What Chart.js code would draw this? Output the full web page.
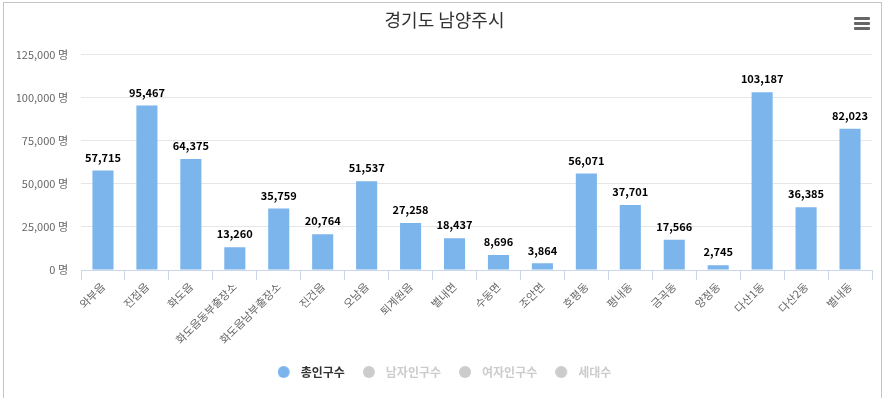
<!DOCTYPE html>
<html>
<head>
<meta charset="utf-8">
<script src="https://cdn.jsdelivr.net/npm/chart.js@4.4.0/dist/chart.umd.min.js"></script>
<style>
  body { margin: 0; background: #fff; }
  #box {
    position: absolute; left: 3px; top: 2px;
    width: 877px; height: 400px;
    border: 1px solid #c4c4c4; background: #fff;
  }
  #menu { position: absolute; left: 850px; top: 14px; width: 16px; }
  #menu span { display: block; height: 3px; background: #666; margin-bottom: 2px; border-radius: 1px; }
</style>
</head>
<body>
<div id="box">
  <canvas id="chart" width="877" height="400"></canvas>
  <div id="menu"><span></span><span></span><span></span></div>
</div>
<script>
// 읍면동 별 인구
const areas = ["와부읍", "진접읍", "화도읍", "화도읍동부출장소", "화도읍남부출장소", "진건읍", "오남읍",
    "퇴계원읍", "별내면", "수동면", "조안면", "호평동", "평내동", "금곡동", "양정동", "다산1동", "다산2동", "별내동"];
const totalPop = [57715, 95467, 64375, 13260, 35759, 20764, 51537, 27258, 18437, 8696, 3864,
    56071, 37701, 17566, 2745, 103187, 36385, 82023];
const seriesNames = ["총인구수", "남자인구수", "여자인구수", "세대수"];
const yTicks = [0, 25000, 50000, 75000, 100000, 125000];

const fontFamily = '"Noto Sans CJK KR", "Noto Sans", sans-serif';
Chart.defaults.font.family = fontFamily;

// 범례 동그라미 (글자와 간격을 두려고 왼쪽에 그림)
function dot(color) {
    const c = document.createElement('canvas');
    c.width = 17; c.height = 12;
    const g = c.getContext('2d');
    g.fillStyle = color;
    g.beginPath();
    g.arc(6, 6, 6, 0, Math.PI * 2);
    g.fill();
    return c;
}
const dotOn = dot('#7cb5ec');
const dotOff = dot('#cccccc');

// 막대 위 숫자
const valueLabels = {
    id: 'valueLabels',
    afterDatasetsDraw(chart) {
        const ctx = chart.ctx;
        const meta = chart.getDatasetMeta(0);
        if (meta.hidden) return;
        ctx.save();
        ctx.font = 'bold 11px ' + fontFamily;
        ctx.fillStyle = '#000';
        ctx.textAlign = 'center';
        ctx.textBaseline = 'middle';
        meta.data.forEach((bar, i) => {
            ctx.fillText(totalPop[i].toLocaleString('en-US'), bar.x, bar.y - 13);
        });
        ctx.restore();
    }
};

const ctx = document.getElementById('chart').getContext('2d');
new Chart(ctx, {
    type: 'bar',
    data: {
        labels: areas,
        datasets: [
            { label: seriesNames[0], data: totalPop, backgroundColor: '#7cb5ec' },
            { label: seriesNames[1], data: [], backgroundColor: '#434348', hidden: true },
            { label: seriesNames[2], data: [], backgroundColor: '#90ed7d', hidden: true },
            { label: seriesNames[3], data: [], backgroundColor: '#f7a35c', hidden: true }
        ]
    },
    options: {
        responsive: false,
        animation: false,
        categoryPercentage: 0.8,
        barPercentage: 0.6,
        layout: { padding: { left: 13, right: 9, top: 0, bottom: 15 } },
        scales: {
            x: {
                grid: { drawOnChartArea: false, color: '#ccd6eb', tickLength: 10, offset: true },
                border: { color: '#ccd6eb' },
                ticks: { color: '#666', font: { size: 11 }, minRotation: 45, maxRotation: 45, autoSkip: false, padding: 0 },
                afterFit: s => { s.height = 78; }
            },
            y: {
                min: 0,
                max: 125000,
                afterBuildTicks: s => { s.ticks = yTicks.map(v => ({ value: v })); },
                grid: { color: '#e6e6e6', drawTicks: false },
                border: { display: false },
                ticks: {
                    color: '#666', font: { size: 11 }, padding: 13,
                    callback: v => v.toLocaleString('en-US') + ' 명'
                },
                afterFit: s => { s.width = 64; }
            }
        },
        plugins: {
            title: {
                display: true,
                text: '경기도 남양주시',
                color: '#333',
                font: { size: 18, weight: 'normal' },
                padding: { top: 6, bottom: 24 }
            },
            legend: {
                position: 'bottom',
                labels: {
                    usePointStyle: true,
                    pointStyleWidth: 17,
                    boxHeight: 12,
                    padding: 18,
                    font: { size: 12, weight: 'bold' },
                    generateLabels(chart) {
                        return chart.data.datasets.map((ds, i) => {
                            const on = chart.isDatasetVisible(i);
                            return {
                                text: ds.label,
                                fillStyle: on ? ds.backgroundColor : '#cccccc',
                                strokeStyle: on ? ds.backgroundColor : '#cccccc',
                                fontColor: on ? '#333' : '#cccccc',
                                lineWidth: 0,
                                pointStyle: on ? dotOn : dotOff,
                                hidden: false,
                                datasetIndex: i
                            };
                        });
                    }
                }
            },
            tooltip: { enabled: false }
        }
    },
    plugins: [valueLabels]
});
</script>
</body>
</html>
